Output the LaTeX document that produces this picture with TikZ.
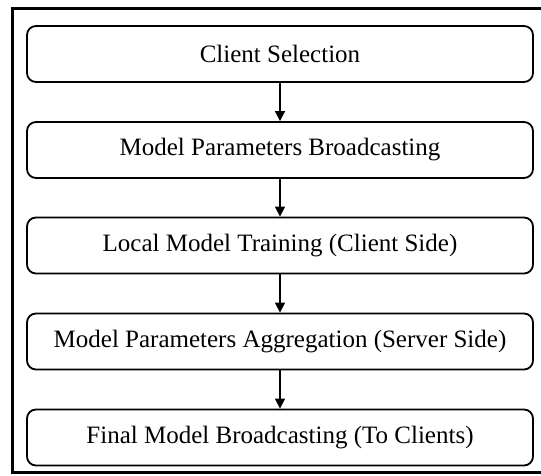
\documentclass[tikz,border=0pt]{standalone}
\usepackage{fontspec}
\setmainfont{Liberation Serif}
\usetikzlibrary{arrows.meta}
\begin{document}
\begin{tikzpicture}[x=1pt,y=-1pt,
  stepbox/.style={draw=black, line width=1.8pt, rounded corners=9pt, minimum width=506pt, minimum height=56pt, inner sep=0pt, font=\fontsize{25}{29}\selectfont, fill=white},
  flow/.style={line width=1.5pt, -{Triangle[length=10pt,width=10pt]}}]
\useasboundingbox (0,0) rectangle (541,476);
\fill[white] (0,0) rectangle (541,476);
\draw[line width=3pt] (545,8.5) -- (12,8.5) -- (12,472) -- (545,472);
\node[stepbox] (b1) at (280,54) {Client Selection};
\node[stepbox] (b2) at (280,150) {Model Parameters Broadcasting};
\node[stepbox] (b3) at (280,245.5) {Local Model Training (Client Side)};
\node[stepbox] (b4) at (280,341.5) {Model Parameters Aggregation (Server Side)};
\node[stepbox] (b5) at (280,437.5) {Final Model Broadcasting (To Clients)};
\draw[flow] (b1) -- (b2);
\draw[flow] (b2) -- (b3);
\draw[flow] (b3) -- (b4);
\draw[flow] (b4) -- (b5);
\end{tikzpicture}
\end{document}
